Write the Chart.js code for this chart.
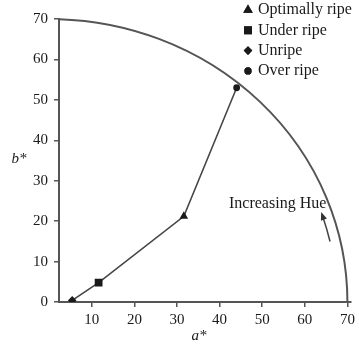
<!DOCTYPE html>
<html>
<head>
<meta charset="utf-8">
<script src="https://cdn.jsdelivr.net/npm/chart.js@4/dist/chart.umd.min.js"></script>
<style>
  body { margin: 0; background: #fff; }
  #wrap { width: 359px; height: 345px; position: relative; }
</style>
</head>
<body>
<div id="wrap"><canvas id="hue-chart"></canvas></div>
<script>
// ripeness stages, with their CIELAB a* / b* coordinates
const categories = ['Optimally ripe', 'Under ripe', 'Unripe', 'Over ripe'];
const aStar = [31.6, 11.6, 5.4, 44];
const bStar = [21.2, 4.8, 0.4, 53];
// order in which the stages are joined by the line
const ripeningOrder = ['Unripe', 'Under ripe', 'Optimally ripe', 'Over ripe'];

const xTicks = [10, 20, 30, 40, 50, 60, 70];
const yTicks = [0, 10, 20, 30, 40, 50, 60, 70];
const chromaRadius = 70;

const markerStyles = {
  'Optimally ripe': { style: 'triangle', r: 5, legendR: 5.5 },
  'Under ripe': { style: 'rect', r: 5.5, legendR: 5.6 },
  'Unripe': { style: 'rectRot', r: 4.3, legendR: 4.3 },
  'Over ripe': { style: 'circle', r: 3.4, legendR: 3.6 },
};

const SERIF = '"Liberation Serif", "DejaVu Serif", serif';
const INK = '#1a1a1a';
const AXIS = '#555';

const pointAt = name => {
  const i = categories.indexOf(name);
  return { x: aStar[i], y: bStar[i] };
};

const scatterSets = categories.map(name => ({
  label: name,
  data: [pointAt(name)],
  pointStyle: markerStyles[name].style,
  pointRadius: markerStyles[name].r,
  backgroundColor: INK,
  borderColor: INK,
  borderWidth: 0,
}));

const pathSet = {
  label: 'path',
  data: ripeningOrder.map(pointAt),
  showLine: true,
  pointRadius: 0,
  borderColor: '#474747',
  borderWidth: 1.6,
};

// hue circle, hue arrow, legend and axis names
const decorations = {
  id: 'decorations',
  beforeDatasetsDraw(chart) {
    const { ctx, chartArea, scales: { x, y } } = chart;
    const cx = x.getPixelForValue(0);
    const cy = y.getPixelForValue(0);
    const sx = x.getPixelForValue(1) - cx;
    const sy = cy - y.getPixelForValue(1);

    ctx.save();
    ctx.beginPath();
    ctx.rect(chartArea.left, chartArea.top - 4, chartArea.right - chartArea.left + 4, chartArea.bottom - chartArea.top + 4);
    ctx.clip();
    ctx.beginPath();
    ctx.ellipse(cx, cy, chromaRadius * sx, chromaRadius * sy, 0, -Math.PI / 2, 0);
    ctx.strokeStyle = '#555';
    ctx.lineWidth = 2;
    ctx.stroke();
    ctx.restore();

    // small arrow along the hue direction
    const r = 67.6;
    const a0 = 12.8 * Math.PI / 180;
    const a1 = 18.2 * Math.PI / 180;
    ctx.save();
    ctx.beginPath();
    ctx.ellipse(cx, cy, r * sx, r * sy, 0, -a1, -a0);
    ctx.strokeStyle = '#444';
    ctx.lineWidth = 1.5;
    ctx.stroke();
    const tipA = 19.2 * Math.PI / 180;
    const tx = cx + r * sx * Math.cos(tipA);
    const ty = cy - r * sy * Math.sin(tipA);
    let dx = -Math.sin(tipA) * sx;
    let dy = -Math.cos(tipA) * sy;
    const len = Math.hypot(dx, dy);
    dx /= len; dy /= len;
    const hl = 8, hw = 3.2;
    ctx.beginPath();
    ctx.moveTo(tx, ty);
    ctx.lineTo(tx - dx * hl - dy * hw, ty - dy * hl + dx * hw);
    ctx.lineTo(tx - dx * hl + dy * hw, ty - dy * hl - dx * hw);
    ctx.closePath();
    ctx.fillStyle = '#333';
    ctx.fill();
    ctx.restore();
  },
  afterDraw(chart) {
    const { ctx } = chart;
    ctx.save();
    ctx.fillStyle = INK;
    ctx.textBaseline = 'middle';

    ctx.font = '16px ' + SERIF;
    ctx.textAlign = 'left';
    ctx.fillText('Increasing Hue', 229, 204);

    categories.forEach((name, i) => {
      const rowY = 10 + i * 20.3;
      const m = markerStyles[name];
      Chart.helpers.drawPoint(ctx, {
        pointStyle: m.style,
        radius: m.legendR,
        rotation: 0,
        borderWidth: 0,
      }, 248, rowY);
      ctx.fill();
      ctx.fillText(name, 258, rowY);
    });

    ctx.font = 'italic 15px ' + SERIF;
    ctx.textAlign = 'center';
    ctx.fillText('a*', 199, 336);
    ctx.fillText('b*', 19, 159);
    ctx.restore();
  }
};

new Chart(document.getElementById('hue-chart'), {
  type: 'scatter',
  data: { datasets: [...scatterSets, pathSet] },
  options: {
    responsive: true,
    maintainAspectRatio: false,
    animation: false,
    layout: { padding: { top: 19, right: 7, left: 0, bottom: 0 } },
    plugins: { legend: { display: false }, tooltip: { enabled: false } },
    scales: {
      x: {
        type: 'linear',
        min: 2.3,
        max: 70.9,
        afterBuildTicks: s => { s.ticks = xTicks.map(v => ({ value: v })); },
        afterFit: s => { s.height = 43; },
        grid: { drawOnChartArea: false, tickLength: 5, color: AXIS, lineWidth: 1.5 },
        border: { color: AXIS, width: 2 },
        ticks: { color: INK, padding: 4, font: { family: SERIF, size: 15 } },
      },
      y: {
        min: 0,
        max: 70,
        afterBuildTicks: s => { s.ticks = yTicks.map(v => ({ value: v })); },
        afterFit: s => { s.width = 59; },
        grid: { drawOnChartArea: false, tickLength: 5, color: AXIS, lineWidth: 1.5 },
        border: { color: AXIS, width: 2 },
        ticks: { color: INK, padding: 6, font: { family: SERIF, size: 15 } },
      }
    }
  },
  plugins: [decorations]
});
</script>
</body>
</html>
